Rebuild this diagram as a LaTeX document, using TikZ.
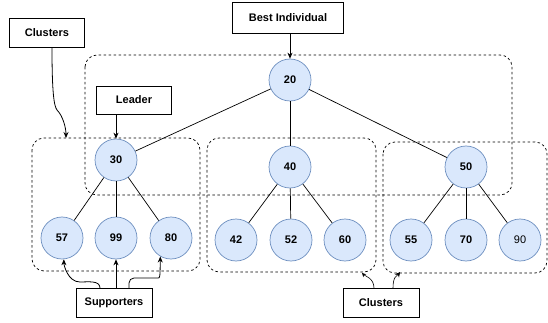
\documentclass[tikz,border=0pt]{standalone}
\usepackage{fontspec}
\setmainfont{Liberation Sans}
\usetikzlibrary{arrows.meta}
\definecolor{indfill}{HTML}{DAE8FC}
\definecolor{inddraw}{HTML}{6C8EBF}
\begin{document}
\begin{tikzpicture}[x=1pt,y=-1pt,
  every node/.style={font=\fontsize{11}{13}\selectfont\bfseries},
  ind/.style={circle,draw=inddraw,fill=indfill,line width=0.7pt,minimum size=42pt,inner sep=0pt},
  lbl/.style={draw,line width=0.8pt,fill=white,rectangle,inner sep=0pt},
  clu/.style={draw,dashed,dash pattern=on 2.5pt off 2.5pt,line width=0.7pt,rounded corners=12pt},
  edge/.style={line width=0.7pt},
  arr/.style={line width=0.8pt,-{Stealth[length=6pt,width=5pt]}}]
\useasboundingbox (0,0) rectangle (548,323);
% cluster boxes
\draw[clu] (85,55) rectangle (512,195);
\draw[clu] (32,138) rectangle (200,271);
\draw[clu] (207,138) rectangle (376,272);
\draw[clu] (383,142) rectangle (547,273);
\coordinate (k1) at (66,138);
\coordinate (k2) at (362,273);
\coordinate (k3) at (400,272);
% individuals
\node[ind] (n20) at (290,80) {20};
\node[ind] (n30) at (116,160) {30};
\node[ind] (n40) at (290,167) {40};
\node[ind] (n50) at (466,167) {50};
\node[ind] (n57) at (62,238) {57};
\node[ind] (n99) at (116,238) {99};
\node[ind] (n80) at (171,238) {80};
\node[ind] (n42) at (236,240) {42};
\node[ind] (n52) at (291,240) {52};
\node[ind] (n60) at (345,240) {60};
\node[ind] (n55) at (411,240) {55};
\node[ind] (n70) at (466,240) {70};
\node[ind,font=\fontsize{11}{13}\selectfont\mdseries] (n90) at (520,240) {90};
% edges
\draw[edge] (n20) -- (n30);
\draw[edge] (n20) -- (n40);
\draw[edge] (n20) -- (n50);
\draw[edge] (n30) -- (n57);
\draw[edge] (n30) -- (n99);
\draw[edge] (n30) -- (n80);
\draw[edge] (n40) -- (n42);
\draw[edge] (n40) -- (n52);
\draw[edge] (n40) -- (n60);
\draw[edge] (n50) -- (n55);
\draw[edge] (n50) -- (n70);
\draw[edge] (n50) -- (n90);
% labels
\node[lbl,minimum width=75pt,minimum height=29pt] (cl1) at (47,33) {Clusters};
\node[lbl,minimum width=111pt,minimum height=31pt] (best) at (288,18) {Best Individual};
\node[lbl,minimum width=75pt,minimum height=28pt] (lead) at (134,100) {Leader};
\node[lbl,minimum width=76pt,minimum height=29pt] (sup) at (114,303) {Supporters};
\node[lbl,minimum width=76pt,minimum height=29pt] (cl2) at (381,303) {Clusters};
% arrows
\draw[arr] ([xshift=5pt]cl1.south) .. controls +(0,45) and +(-3,-4) .. (57,110)
  .. controls +(6,6) and +(0,-10) .. (k1);
\draw[arr] (best.south -| n20) -- (n20.north);
\draw[arr] (lead.south -| n30) -- (n30.north);
\draw[arr] ([xshift=-14pt]sup.north) .. controls +(0,-8) and +(8,0) .. (80,282)
  .. controls +(-12,0) and +(0,6) .. (n57.275);
\draw[arr] (sup.north -| n99) -- (n99.south);
\draw[arr,rounded corners=5pt] ([xshift=15pt]sup.north) |- (153,278) .. controls (160,278) .. (n80.240);
\draw[arr,line width=0.6pt,-{Stealth[length=4pt,width=4pt]}] ([xshift=-7pt]cl2.north) .. controls +(0,-10) and +(3,3) .. (k2);
\draw[arr,line width=0.6pt,-{Stealth[length=5pt,width=5pt]}] ([xshift=12pt]cl2.north) .. controls +(0,-12) and +(-3,4) .. (k3);
\end{tikzpicture}
\end{document}
